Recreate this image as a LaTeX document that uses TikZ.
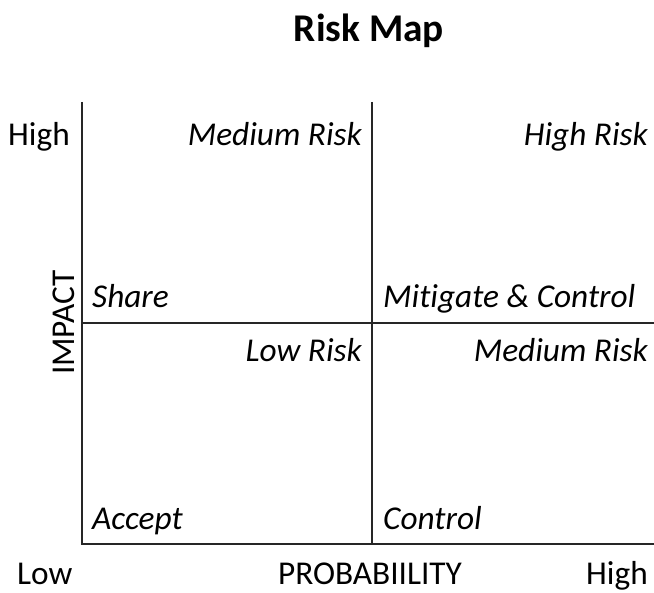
\documentclass[tikz,border=0pt]{standalone}
\usepackage{fontspec}
\setmainfont[Ligatures=NoCommon]{Carlito}
\begin{document}
\begin{tikzpicture}[x=1pt,y=-1pt,
  axisline/.style={line width=2pt,black!85},
  lbl/.style={inner sep=0pt,font=\fontsize{33.3}{40}\selectfont},
  qlbl/.style={inner sep=0pt,font=\fontsize{33.3}{40}\selectfont\itshape},
  ttl/.style={inner sep=0pt,font=\fontsize{39.3}{46}\selectfont\bfseries}]
\useasboundingbox (0,0) rectangle (654,593);
\coordinate (tl) at (82,102);
\coordinate (bl) at (82,544);
\coordinate (br) at (654,544);
\coordinate (mt) at (372,102);
\coordinate (mb) at (372,544);
\coordinate (ml) at (82,323);
\coordinate (mr) at (654,323);
\draw[axisline] (tl) -- (bl) -- (br);
\draw[axisline] (mt) -- (mb);
\draw[axisline] (ml) -- (mr);
\node[ttl,anchor=base] (title) at (369,42) {Risk Map};
\node[lbl,anchor=base west] (yhigh) at (8,146) {High};
\node[lbl,anchor=base west] (xlow) at (17,585) {Low};
\node[lbl,anchor=base] (xlab) at (370,585) {PROBABIILITY};
\node[lbl,anchor=base east] (xhigh) at (648,585) {High};
\node[lbl,rotate=90,anchor=base] (ylab) at (74,322.5) {IMPACT};
\node[qlbl,anchor=base east] (q1) at (362,146) {Medium Risk};
\node[qlbl,anchor=base east] (q2) at (648,146) {High Risk};
\node[qlbl,anchor=base west] (q3) at (92,308) {Share};
\node[qlbl,anchor=base west] (q4) at (383,308) {Mitigate \& Control};
\node[qlbl,anchor=base east] (q5) at (362,362) {Low Risk};
\node[qlbl,anchor=base east] (q6) at (648,362) {Medium Risk};
\node[qlbl,anchor=base west] (q7) at (92,530) {Accept};
\node[qlbl,anchor=base west] (q8) at (383,530) {Control};
\end{tikzpicture}
\end{document}
